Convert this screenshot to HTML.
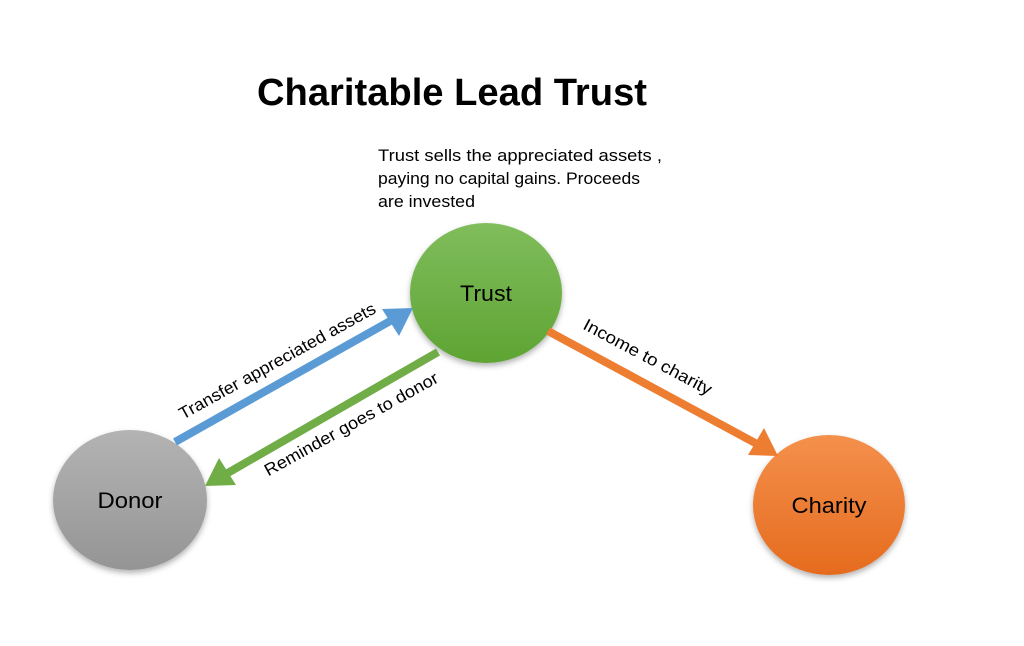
<!DOCTYPE html>
<html><head><meta charset="utf-8"><style>
html,body{margin:0;padding:0;background:#fff;}
svg{display:block}
text{font-family:"Liberation Sans",sans-serif;}
</style></head><body>
<svg width="1024" height="646" viewBox="0 0 1024 646" xmlns="http://www.w3.org/2000/svg">
<defs>
<linearGradient id="gt" x1="0" y1="0" x2="0" y2="1"><stop offset="0" stop-color="#80bd5c"/><stop offset="1" stop-color="#5ea433"/></linearGradient>
<linearGradient id="gd" x1="0" y1="0" x2="0" y2="1"><stop offset="0" stop-color="#b3b3b3"/><stop offset="1" stop-color="#959595"/></linearGradient>
<linearGradient id="gc" x1="0" y1="0" x2="0" y2="1"><stop offset="0" stop-color="#f4904c"/><stop offset="1" stop-color="#e56b1e"/></linearGradient>
<filter id="sh" x="-20%" y="-20%" width="140%" height="140%"><feDropShadow dx="0" dy="3" stdDeviation="3" flood-color="#000" flood-opacity="0.3"/></filter>
</defs>
<text x="452" y="105" font-size="38" font-weight="bold" text-anchor="middle" fill="#000" textLength="390" lengthAdjust="spacingAndGlyphs">Charitable Lead Trust</text>
<text font-size="17" fill="#000"><tspan x="378" y="161" textLength="284" lengthAdjust="spacingAndGlyphs">Trust sells the appreciated assets ,</tspan><tspan x="378" y="184" textLength="262" lengthAdjust="spacingAndGlyphs">paying no capital gains. Proceeds</tspan><tspan x="378" y="207" textLength="97" lengthAdjust="spacingAndGlyphs">are invested</tspan></text>
<ellipse cx="486" cy="293" rx="76" ry="70" fill="url(#gt)" filter="url(#sh)"/>
<ellipse cx="130" cy="500" rx="77" ry="70" fill="url(#gd)" filter="url(#sh)"/>
<ellipse cx="829" cy="505" rx="76" ry="70" fill="url(#gc)" filter="url(#sh)"/>
<text x="486" y="301" font-size="22" text-anchor="middle" fill="#000" textLength="52" lengthAdjust="spacingAndGlyphs">Trust</text>
<text x="130" y="508" font-size="22" text-anchor="middle" fill="#000" textLength="65" lengthAdjust="spacingAndGlyphs">Donor</text>
<text x="829" y="513" font-size="22" text-anchor="middle" fill="#000" textLength="75" lengthAdjust="spacingAndGlyphs">Charity</text>
<line x1="175" y1="442" x2="392" y2="320" stroke="#5b9bd5" stroke-width="8"/>
<polygon points="413,308 382,309 399,336" fill="#5b9bd5"/>
<line x1="438" y1="352" x2="226" y2="474" stroke="#70ad47" stroke-width="8"/>
<polygon points="205,486 236,485 219,458" fill="#70ad47"/>
<line x1="548" y1="331" x2="757" y2="444" stroke="#ed7d31" stroke-width="8"/>
<polygon points="778,456 764,428 748,455" fill="#ed7d31"/>
<text transform="translate(280,366) rotate(-29)" font-size="17" text-anchor="middle" fill="#000" textLength="222" lengthAdjust="spacingAndGlyphs">Transfer appreciated assets</text>
<text transform="translate(354,429) rotate(-29)" font-size="17" text-anchor="middle" fill="#000" textLength="196" lengthAdjust="spacingAndGlyphs">Reminder goes to donor</text>
<text transform="translate(645,362) rotate(28)" font-size="17" text-anchor="middle" fill="#000" textLength="143" lengthAdjust="spacingAndGlyphs">Income to charity</text>
</svg>
</body></html>
